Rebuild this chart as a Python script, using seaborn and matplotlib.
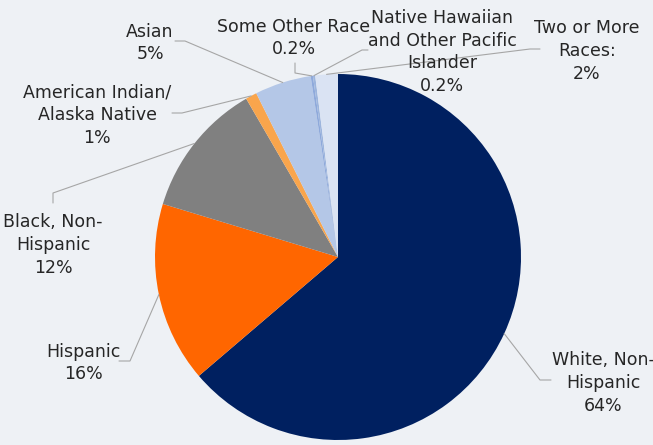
import numpy as np
import matplotlib
matplotlib.use("Agg")
import matplotlib.pyplot as plt
import seaborn as sns

# data, in clockwise order from 12 o'clock
groups = ["White, Non-Hispanic", "Hispanic", "Black, Non-Hispanic",
          "American Indian/Alaska Native", "Asian", "Some Other Race",
          "Native Hawaiian and Other Pacific Islander", "Two or More Races"]
shares = [64, 16, 12, 1, 5, 0.2, 0.2, 2]
share_text = ["64%", "16%", "12%", "1%", "5%", "0.2%", "0.2%", "2%"]
label_names = ["White, Non-\nHispanic", "Hispanic", "Black, Non-\nHispanic",
               "American Indian/\nAlaska Native", "Asian", "Some Other Race",
               "Native Hawaiian\nand Other Pacific\nIslander", "Two or More\nRaces:"]
colors = ["#002060", "#FF6600", "#808080", "#F9A54C", "#B4C7E7",
          "#8EA9DB", "#9DB5DD", "#DAE3F3"]

sns.set_theme(style="white")
plt.rcParams["font.family"] = ["DejaVu Sans"]

BG = "#EEF1F5"
W, H = 653, 445
CX, CY, R = 338, 257, 183  # pie centre / radius in pixels


def px(x, y):
    return (x - CX) / R, (CY - y) / R


fig = plt.figure(figsize=(W / 100, H / 100), dpi=100, facecolor=BG)
ax = fig.add_axes([0, 0, 1, 1])
ax.set_facecolor(BG)

wedges, _ = ax.pie(shares, colors=colors, startangle=90, counterclock=False,
                   radius=1, wedgeprops=dict(linewidth=0))
ax.set_xlim(-CX / R, (W - CX) / R)
ax.set_ylim(-(H - CY) / R, CY / R)
ax.set_aspect("equal")
ax.axis("off")

# label placement (text centre) and leader elbow/end, pixel coords
label_pos = [(603, 383), (83, 363), (53, 245), (97, 115), (150, 43),
             (294, 38), (442, 52), (587, 51)]
leaders = [[(540, 380), (551, 380)],
           [(130, 361), (119, 361)],
           [(53, 193), (53, 203)],
           [(182, 113), (172, 113)],
           [(185, 41), (175, 41)],
           [(295, 73), (295, 63)],
           [(362, 50), (368, 50)],
           [(530, 49), (540, 49)]]

for w, name, pct, pos, lead in zip(wedges, label_names, share_text, label_pos, leaders):
    mid = np.deg2rad((w.theta1 + w.theta2) / 2)
    start = (np.cos(mid), np.sin(mid))
    pts = [start] + [px(*p) for p in lead]
    xs, ys = zip(*pts)
    ax.plot(xs, ys, color="#A6A6A6", lw=0.8, zorder=1)
    tx, ty = px(*pos)
    ax.text(tx, ty, f"{name}\n{pct}", ha="center", va="center", fontsize=12.5,
            color="#262626", linespacing=1.35, zorder=3)

fig.savefig("out.png", dpi=100, facecolor=BG)
